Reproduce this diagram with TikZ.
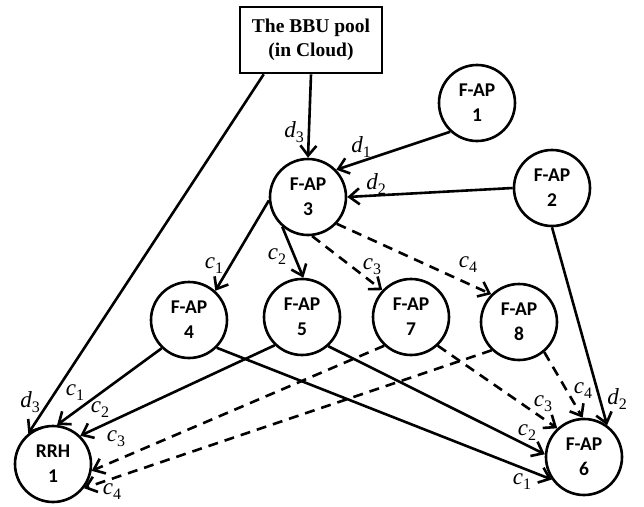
\documentclass[tikz,border=0pt]{standalone}
\usepackage{fontspec}
\newfontfamily\apfont{Carlito}
\newfontfamily\boxfont{Liberation Serif}
\usetikzlibrary{arrows.meta}
\newcommand{\lbl}[2]{{\boxfont\itshape #1}\raisebox{-5pt}{\boxfont\fontsize{16}{16}\selectfont #2}}
\tikzset{
  ap/.style={circle, draw, line width=2.6pt, minimum size=76pt, inner sep=0pt, align=center,
    font=\apfont\bfseries\fontsize{19.5}{25}\selectfont},
  bbubox/.style={rectangle, draw, line width=2.6pt, minimum width=142pt, minimum height=66pt,
    inner sep=0pt, align=center, font=\boxfont\bfseries\fontsize{19.5}{24}\selectfont},
  lab/.style={font=\fontsize{23}{23}\selectfont, inner sep=0pt},
  conn/.style={line width=2.6pt, -{Straight Barb[length=10pt,width=16pt,line width=2.6pt]}},
  dconn/.style={conn, dash pattern=on 10pt off 7pt},
}
\begin{document}
\begin{tikzpicture}[x=1pt,y=-1pt]
\useasboundingbox (0,0) rectangle (644,506);
% nodes
\node[bbubox] (bbu) at (311,40) {The BBU pool\\(in Cloud)};
\node[ap] (f1) at (477,103) {F-AP\\1};
\node[ap] (f2) at (552,188) {F-AP\\2};
\node[ap] (f3) at (308,197) {F-AP\\3};
\node[ap] (f4) at (189,320) {F-AP\\4};
\node[ap] (f5) at (302,317) {F-AP\\5};
\node[ap] (f7) at (411,317) {F-AP\\7};
\node[ap] (f8) at (519,322) {F-AP\\8};
\node[ap] (f6) at (584,457) {F-AP\\6};
\node[ap] (r1) at (53,464) {RRH\\1};
% connectors
\draw[conn] (bbu.south) -- (f3.north);
\draw[conn] ([xshift=25pt]bbu.south west) -- (r1.129);
\draw[conn] (f1.227) -- (f3.44);
\draw[conn] (f2.west) -- (f3.east);
\draw[conn] (f2.south) -- (f6.54);
\draw[conn] (f3.185) -- (f4.48);
\draw[conn] (f3.229) -- (f5.88);
\draw[dconn] (f3.276) -- (f7.137);
\draw[dconn] (f3.317) -- (f8.135);
\draw[conn] (f4.226) -- (r1.84);
\draw[conn] (f5.226) -- (r1.46);
\draw[dconn] (f7.227) -- (r1.-10);
\draw[dconn] (f8.226) -- (r1.-38);
\draw[conn] (f4.315) -- (f6.215);
\draw[conn] (f5.312) -- (f6.176);
\draw[dconn] (f7.313) -- (f6.133);
\draw[dconn] (f8.310) -- (f6.92);
% labels
\node[lab] (la) at (294,132) {\lbl{d}{3}};
\node[lab] (lb) at (361,147) {\lbl{d}{1}};
\node[lab] (lc) at (376,184) {\lbl{d}{2}};
\node[lab] (ld) at (214,266) {\lbl{c}{1}};
\node[lab] (le) at (277,257) {\lbl{c}{2}};
\node[lab] (lf) at (372,267) {\lbl{c}{3}};
\node[lab] (lg) at (468,265) {\lbl{c}{4}};
\node[lab] (lh) at (30,402) {\lbl{d}{3}};
\node[lab] (li) at (75,393) {\lbl{c}{1}};
\node[lab] (lj) at (100,410) {\lbl{c}{2}};
\node[lab] (lk) at (116,439) {\lbl{c}{3}};
\node[lab] (ll) at (112,492) {\lbl{c}{4}};
\node[lab] (lm) at (583,391) {\lbl{c}{4}};
\node[lab] (ln) at (617,399) {\lbl{d}{2}};
\node[lab] (lo) at (543,404) {\lbl{c}{3}};
\node[lab] (lp) at (527,433) {\lbl{c}{2}};
\node[lab] (lq) at (522,482) {\lbl{c}{1}};
\end{tikzpicture}
\end{document}
